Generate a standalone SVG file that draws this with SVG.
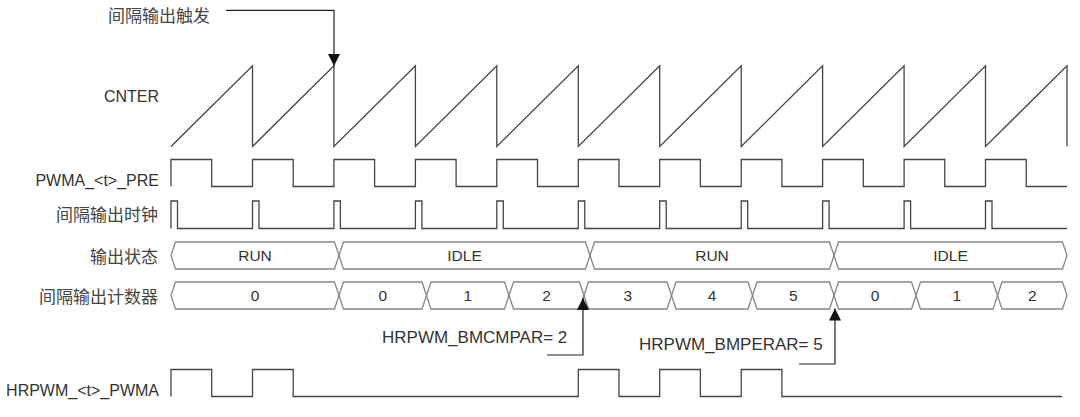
<svg xmlns="http://www.w3.org/2000/svg" width="1080" height="417" viewBox="0 0 1080 417">
<style>
  .sig{fill:none;stroke:#444;stroke-width:1.3;stroke-linejoin:miter}
  .bus{fill:none;stroke:#888;stroke-width:1.3}
  .lbl{font-family:"Liberation Sans",Arial,sans-serif;font-size:16px;fill:#333}
  .big{font-size:17px}
  .cjk{font-family:"Noto Sans CJK SC","Liberation Sans",sans-serif;font-size:17px;fill:#444}
  .val{font-family:"Liberation Sans",Arial,sans-serif;font-size:15.5px;fill:#333;text-anchor:middle}
  .conn{fill:none;stroke:#222;stroke-width:1.2}
</style>
<defs>
  <marker id="ah" markerWidth="12" markerHeight="12" viewBox="0 0 12 12" refX="12" refY="6" orient="auto" markerUnits="userSpaceOnUse">
    <path d="M0,0 L12,6 L0,12 Z" fill="#111"/>
  </marker>
</defs>
<rect width="1080" height="417" fill="#fff"/>

<g id="cnter">
  <text class="lbl" x="159" y="102" text-anchor="end">CNTER</text>
  <path class="sig" d="M171,146.5 L252.5,65.7 V146.5 L333.9,65.7 V146.5 L415.4,65.7 V146.5 L496.8,65.7 V146.5 L578.3,65.7 V146.5 L659.7,65.7 V146.5 L741.2,65.7 V146.5 L822.6,65.7 V146.5 L904.1,65.7 V146.5 L985.5,65.7 V146.5 L1067,65.7 V146.5"/>
</g>

<g id="pwma-pre">
  <text class="lbl" x="159" y="186" text-anchor="end">PWMA_&lt;t&gt;_PRE</text>
  <path class="sig" d="M171,186.5 V159.5 H211.7 V186.5 H252.5 V159.5 H293.2 V186.5 H333.9 V159.5 H374.6 V186.5 H415.4 V159.5 H456.1 V186.5 H496.8 V159.5 H537.5 V186.5 H578.3 V159.5 H619 V186.5 H659.7 V159.5 H700.4 V186.5 H741.2 V159.5 H781.9 V186.5 H822.6 V159.5 H863.3 V186.5 H904.1 V159.5 H944.8 V186.5 H985.5 V159.5 H1026.2 V186.5 H1067"/>
</g>

<g id="interval-clock">
  <text class="cjk" x="158" y="220.5" text-anchor="end">间隔输出时钟</text>
  <path class="sig" d="M171,228.5 V201 H177.5 V228.5 H252.5 V201 H259 V228.5 H333.9 V201 H340.4 V228.5 H415.4 V201 H421.9 V228.5 H496.8 V201 H503.3 V228.5 H578.3 V201 H584.8 V228.5 H659.7 V201 H666.2 V228.5 H741.2 V201 H747.7 V228.5 H822.6 V201 H829.1 V228.5 H904.1 V201 H910.6 V228.5 H985.5 V201 H992 V228.5 H1067"/>
</g>

<g id="output-state">
  <text class="cjk" x="158" y="262.5" text-anchor="end">输出状态</text>
  <path class="bus" d="M171,255.5 L175.5,242 H334.5 L339,255.5 L334.5,269 H175.5 Z"/>
  <path class="bus" d="M339,255.5 L343.5,242 H585.5 L590,255.5 L585.5,269 H343.5 Z"/>
  <path class="bus" d="M590,255.5 L594.5,242 H829.5 L834,255.5 L829.5,269 H594.5 Z"/>
  <path class="bus" d="M834,255.5 L838.5,242 H1062.5 L1067,255.5 L1062.5,269 H838.5 Z"/>
  <text class="val" x="255" y="261">RUN</text>
  <text class="val" x="464.5" y="261">IDLE</text>
  <text class="val" x="712" y="261">RUN</text>
  <text class="val" x="950.5" y="261">IDLE</text>
</g>

<g id="interval-counter">
  <text class="cjk" x="158" y="302.5" text-anchor="end">间隔输出计数器</text>
  <path class="bus" d="M171,295.5 L175.5,282 H334.5 L339,295.5 L334.5,309 H175.5 Z"/>
  <path class="bus" d="M339,295.5 L343.5,282 H422 L426.5,295.5 L422,309 H343.5 Z"/>
  <path class="bus" d="M426.5,295.5 L431,282 H504.5 L509,295.5 L504.5,309 H431 Z"/>
  <path class="bus" d="M509,295.5 L513.5,282 H579.5 L584,295.5 L579.5,309 H513.5 Z"/>
  <path class="bus" d="M584,295.5 L588.5,282 H667 L671.5,295.5 L667,309 H588.5 Z"/>
  <path class="bus" d="M671.5,295.5 L676,282 H748 L752.5,295.5 L748,309 H676 Z"/>
  <path class="bus" d="M752.5,295.5 L757,282 H829.5 L834,295.5 L829.5,309 H757 Z"/>
  <path class="bus" d="M834,295.5 L838.5,282 H911.5 L916,295.5 L911.5,309 H838.5 Z"/>
  <path class="bus" d="M916,295.5 L920.5,282 H993 L997.5,295.5 L993,309 H920.5 Z"/>
  <path class="bus" d="M997.5,295.5 L1002,282 H1062.5 L1067,295.5 L1062.5,309 H1002 Z"/>
  <text class="val" x="255" y="301">0</text>
  <text class="val" x="382.8" y="301">0</text>
  <text class="val" x="467.8" y="301">1</text>
  <text class="val" x="546.5" y="301">2</text>
  <text class="val" x="627.8" y="301">3</text>
  <text class="val" x="712" y="301">4</text>
  <text class="val" x="793.3" y="301">5</text>
  <text class="val" x="875" y="301">0</text>
  <text class="val" x="956.8" y="301">1</text>
  <text class="val" x="1032.3" y="301">2</text>
</g>

<g id="hrpwm-pwma">
  <text class="lbl" x="159" y="396" text-anchor="end">HRPWM_&lt;t&gt;_PWMA</text>
  <path class="sig" d="M171,396.5 V369.5 H211.7 V396.5 H252.5 V369.5 H293.2 V396.5 H578.3 V369.5 H619 V396.5 H659.7 V369.5 H700.4 V396.5 H741.2 V369.5 H781.9 V396.5 H1062"/>
</g>

<g id="trigger-label">
  <text class="cjk" x="108" y="21.5">间隔输出触发</text>
</g>
<g id="bmcmpar-label">
  <text class="lbl big" x="382" y="343">HRPWM_BMCMPAR= 2</text>
</g>
<g id="bmperar-label">
  <text class="lbl big" x="639" y="349.5">HRPWM_BMPERAR= 5</text>
</g>

<g id="connectors">
  <path class="conn" d="M226,10.3 H334 V66" marker-end="url(#ah)"/>
  <path class="conn" d="M547,355 H583 V298" marker-end="url(#ah)"/>
  <path class="conn" d="M799,364 H835 V308.5" marker-end="url(#ah)"/>
</g>
</svg>
